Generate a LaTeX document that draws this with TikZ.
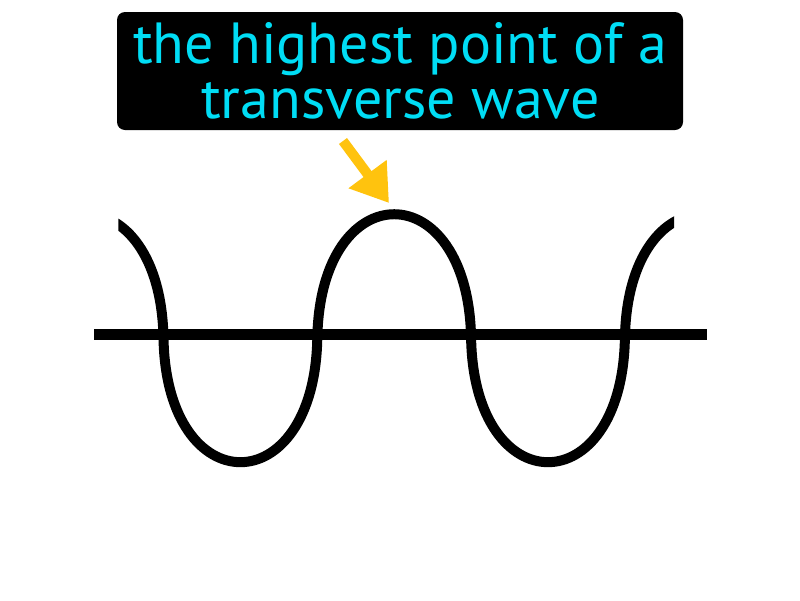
\documentclass[tikz,border=0pt]{standalone}
\usepackage{fontspec}
\setmainfont{PT Sans}
\usetikzlibrary{arrows.meta}
\definecolor{labelcyan}{RGB}{0,221,245}
\definecolor{arrowgold}{RGB}{255,195,14}
\tikzset{
  labelbox/.style={fill=black, rounded corners=8pt, minimum width=566pt, minimum height=118pt, inner sep=0pt},
  labeltext/.style={text=labelcyan, font=\fontsize{58}{55}\selectfont, inner sep=0pt, anchor=base},
  wave/.style={line width=10pt, black},
  axisline/.style={line width=11pt, black},
  pointer/.style={line width=10pt, arrowgold, -{Triangle[length=36pt, width=45pt]}}
}
\begin{document}
\begin{tikzpicture}[x=1pt, y=-1pt]
\useasboundingbox (0,0) rectangle (800,600);
\node[labelbox] (label) at (400,71) {};
\node[labeltext] (line1) at (400,63) {the highest point of a};
\node[labeltext] (line2) at (400.5,118) {transverse wave};
% axis
\coordinate (axL) at (94,334.5);
\coordinate (axR) at (707,334.5);
\draw[axisline] (axL) -- (axR);
% wave
\begin{scope}
\clip (118.3,0) rectangle (674,600);
\draw[wave] (9.7,338.2)
  .. controls (12.7,172.9) and (160.5,172.9) .. (163.5,338.2)
  .. controls (166.5,503.5) and (314.3,503.5) .. (317.3,338.2)
  .. controls (320.3,172.9) and (468.1,172.9) .. (471.1,338.2)
  .. controls (474.1,503.5) and (621.9,503.5) .. (624.9,338.2)
  .. controls (627.9,172.9) and (775.7,172.9) .. (778.7,338.2);
\end{scope}
% pointer
\coordinate (ptrStart) at (343,141);
\coordinate (peak) at (389,203);
\draw[pointer] (ptrStart) -- (peak);
\end{tikzpicture}
\end{document}
